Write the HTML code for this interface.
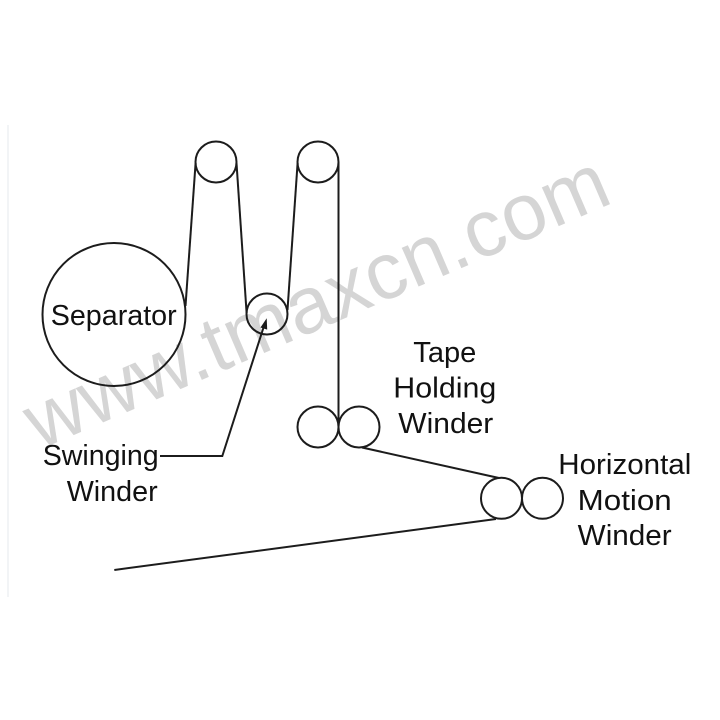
<!DOCTYPE html>
<html>
<head>
<meta charset="utf-8">
<style>
  html, body { margin: 0; padding: 0; background: #ffffff; }
  svg { display: block; }
</style>
</head>
<body>
<svg width="720" height="720" viewBox="0 0 720 720" xmlns="http://www.w3.org/2000/svg">
  <rect width="720" height="720" fill="#ffffff"/>
  <!-- faint left border line -->
  <line x1="8" y1="125" x2="8" y2="597" stroke="#eef0f4" stroke-width="1.5"/>

  <!-- watermark -->
  <text x="39" y="450" transform="rotate(-23.3 39 450)" font-family="Liberation Sans, sans-serif" font-size="80" fill="#d5d5d5" textLength="627" lengthAdjust="spacing">www.tmaxcn.com</text>

  <g fill="none" stroke="#1c1c1c" stroke-width="2">
    <!-- separator -->
    <circle cx="114" cy="314.5" r="71.5"/>
    <!-- top rollers -->
    <circle cx="216" cy="162" r="20.5"/>
    <circle cx="318" cy="162" r="20.5"/>
    <!-- swinging roller -->
    <circle cx="267" cy="314" r="20.5"/>
    <!-- tape holding rollers -->
    <circle cx="318" cy="427" r="20.5"/>
    <circle cx="359" cy="427" r="20.5"/>
    <!-- horizontal motion rollers -->
    <circle cx="501.5" cy="498.3" r="20.5"/>
    <circle cx="542.5" cy="498.3" r="20.5"/>

    <!-- belt lines -->
    <line x1="185.5" y1="306" x2="195.6" y2="163"/>
    <line x1="236.5" y1="163" x2="246.6" y2="313"/>
    <line x1="287.5" y1="310" x2="297.6" y2="163"/>
    <line x1="338.5" y1="162" x2="338.5" y2="422"/>
    <line x1="362" y1="447.5" x2="499" y2="478"/>
    <line x1="496" y1="519" x2="114.3" y2="570"/>

    <!-- swinging leader -->
    <polyline points="160,456 222.3,456 264,326"/>
  </g>
  <!-- arrowhead -->
  <polygon points="266.7,318.3 260.5,327.5 267.2,329.6" fill="#1c1c1c"/>

  <g font-family="Liberation Sans, sans-serif" font-size="29" fill="#111111">
    <text x="50.7" y="325" textLength="126" lengthAdjust="spacingAndGlyphs">Separator</text>
    <text x="42.7" y="465" textLength="116" lengthAdjust="spacingAndGlyphs">Swinging</text>
    <text x="66.7" y="501" textLength="91" lengthAdjust="spacingAndGlyphs">Winder</text>

    <text x="413.3" y="362" textLength="63" lengthAdjust="spacingAndGlyphs">Tape</text>
    <text x="393.3" y="397.5" textLength="103" lengthAdjust="spacingAndGlyphs">Holding</text>
    <text x="398.3" y="433" textLength="95" lengthAdjust="spacingAndGlyphs">Winder</text>

    <text x="558.3" y="474" textLength="133" lengthAdjust="spacingAndGlyphs">Horizontal</text>
    <text x="577.7" y="510" textLength="94" lengthAdjust="spacingAndGlyphs">Motion</text>
    <text x="577.7" y="545" textLength="94" lengthAdjust="spacingAndGlyphs">Winder</text>
  </g>
</svg>
</body>
</html>
